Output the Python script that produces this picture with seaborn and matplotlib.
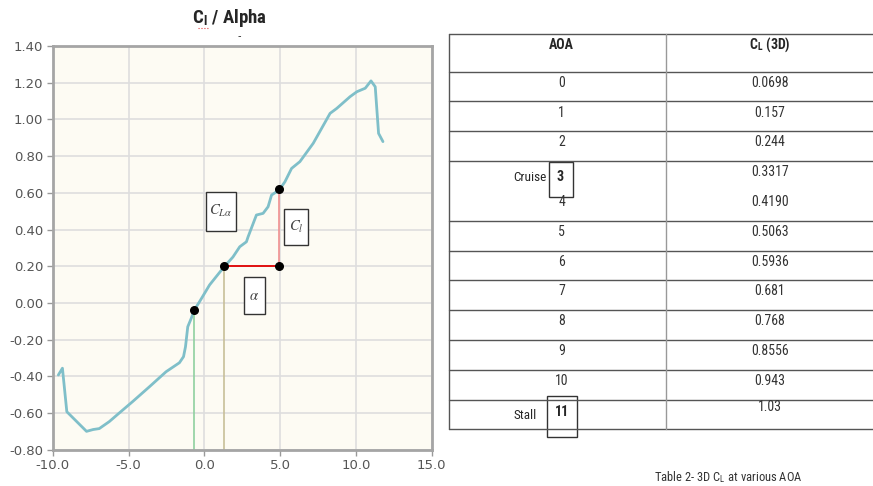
import matplotlib
matplotlib.use("Agg")
import matplotlib.pyplot as plt
from matplotlib import font_manager
import seaborn as sns
import numpy as np

# C_l vs alpha curve
alpha = [-9.63, -9.36, -9.07, -7.77, -7.33, -6.93, -6.27, -5.61, -4.73, -3.62,
         -2.52, -1.64, -1.37, -1.24, -1.09, -0.86, -0.66, -0.31, 0.35, 1.28,
         1.89, 2.34, 2.78, 2.89, 3.44, 3.88, 4.21, 4.44, 4.94, 5.32,
         5.76, 6.31, 7.19, 8.30, 8.74, 9.62, 10.07, 10.62, 11.00, 11.28,
         11.50, 11.79]
cl = [-0.393, -0.356, -0.593, -0.700, -0.690, -0.685, -0.647, -0.600, -0.538, -0.457,
      -0.375, -0.326, -0.293, -0.239, -0.130, -0.084, -0.039, 0.007, 0.098, 0.194,
      0.250, 0.306, 0.333, 0.360, 0.479, 0.488, 0.524, 0.588, 0.615, 0.660,
      0.733, 0.770, 0.870, 1.033, 1.060, 1.124, 1.151, 1.170, 1.210, 1.178,
      0.924, 0.879]

# construction points for the slope
zero_lift = (-0.66, -0.04)
p1 = (1.28, 0.20)
p2 = (4.94, 0.20)
p3 = (4.94, 0.62)

# table
aoa = [str(i) for i in range(12)]
cl_3d = ["0.0698", "0.157", "0.244", "0.3317", "0.4190", "0.5063",
         "0.5936", "0.681", "0.768", "0.8556", "0.943", "1.03"]

sns.set_theme(style="whitegrid")
plt.rcParams["font.family"] = ["DejaVu Sans"]
plt.rcParams["mathtext.fontset"] = "stix"

# pick a narrow face if one is installed
names = {f.name for f in font_manager.fontManager.ttflist}
narrow = "Liberation Sans"
narrow_stretch = "normal"
for cand in ["Liberation Sans Narrow", "DejaVu Sans Condensed", "Roboto Condensed",
             "Open Sans Condensed"]:
    if cand in names:
        narrow = cand
        break
else:
    cond = [f for f in font_manager.fontManager.ttflist
            if f.name == "DejaVu Sans" and f.stretch in ("condensed", "semi-condensed")]
    if cond:
        narrow = "DejaVu Sans"
        narrow_stretch = "condensed"
narrow_fam = [narrow, "DejaVu Sans"]
nkw = dict(family=narrow_fam, stretch=narrow_stretch)
big = narrow != "Liberation Sans"
tfs = 10 if big else 8.5

fig = plt.figure(figsize=(8.73, 4.86), dpi=100)
ax = fig.add_axes([0.0604, 0.0747, 0.434, 0.8306])
ax.set_facecolor("#fdfbf3")

sns.lineplot(x=alpha, y=cl, sort=False, ax=ax, color="#7fbfc9", linewidth=2)

ax.plot([zero_lift[0], zero_lift[0]], [-0.8, zero_lift[1]], color="#8fd0a0", lw=1.2)
ax.plot([p1[0], p1[0]], [-0.8, p1[1]], color="#c8bf98", lw=1.2)
ax.plot([p1[0], p2[0]], [p1[1], p2[1]], color="#e01010", lw=1.4)
ax.plot([p2[0], p3[0]], [p2[1], p3[1]], color="#f09090", lw=1.2)
ax.scatter([zero_lift[0], p1[0], p2[0], p3[0]], [zero_lift[1], p1[1], p2[1], p3[1]],
           color="black", s=30, zorder=5)

xt = np.arange(-10, 16, 5)
yt = np.round(np.arange(-0.8, 1.41, 0.2), 2)
ax.set_xlim(-10, 15)
ax.set_ylim(-0.8, 1.4)
ax.set_xticks(xt)
ax.set_yticks(yt)
ax.set_xticklabels([f"{v:.1f}" for v in xt])
ax.set_yticklabels([f"{v + 0.0:.2f}" for v in yt])
ax.tick_params(axis="both", labelsize=9.5, labelcolor="#555555", length=4,
               color="#999999", width=1, pad=3, left=True, bottom=True)
ax.grid(True, color="#dedede", linewidth=1.2)
for s in ax.spines.values():
    s.set_color("#a5a5a5")
    s.set_linewidth(2)

# overlay axes in pixel coordinates for title, labels and table
ov = fig.add_axes([0, 0, 1, 1], facecolor="none")
ov.set_xlim(0, 873)
ov.set_ylim(486, 0)
ov.axis("off")

# label boxes on the plot
for (x0, y0, w, h, s) in [(205.7, 191.7, 30, 39.3, r"$C_{L\alpha}$"),
                          (284.3, 209, 23.4, 36, r"$C_l$"),
                          (244, 276.7, 21, 37.3, r"$\alpha$")]:
    ov.add_patch(plt.Rectangle((x0, y0), w, h, fc="white", ec="#333333", lw=1, zorder=6))
    ov.text(x0 + w / 2, y0 + h / 2, s, ha="center", va="center", fontsize=10.5,
            color="#444444", zorder=7)

ov.text(229, 18, r"C$_\mathregular{l}$ / Alpha", ha="center", va="center",
        fontsize=13.5 if big else 11.5, fontweight="bold", **nkw)
ov.plot([198, 209], [28, 28], color="#e04040", lw=0.8, ls=":")
ov.text(239, 36, "-", ha="center", va="center", fontsize=7)

# table lines
left, mid, right = 449.3, 665.7, 873
top, head_bot, bot = 34, 71.7, 429.3
step = (bot - head_bot) / len(aoa)
line_c = "#555555"
ov.plot([left, right], [top, top], color=line_c, lw=1)
ov.plot([left, right], [head_bot, head_bot], color=line_c, lw=1)
for i in range(1, len(aoa) + 1):
    if i == 4:
        continue
    y = head_bot + i * step
    ov.plot([left, right], [y, y], color=line_c, lw=1)
ov.plot([left, left], [top, bot], color=line_c, lw=1)
ov.plot([mid, mid], [top, bot], color="#999999", lw=1)

c1, c2 = 561.7, 770
ov.text(c1, 45, "AOA", ha="center", va="center", fontsize=tfs, fontweight="bold", **nkw)
ov.text(c2, 45, r"C$_\mathregular{L}$ (3D)", ha="center", va="center", fontsize=tfs,
        fontweight="bold", **nkw)
for i, (a, c) in enumerate(zip(aoa, cl_3d)):
    y = head_bot + i * step + 11
    if a in ("3", "11"):
        continue
    ov.text(c1, y, a, ha="center", va="center", fontsize=tfs, color="#333333", **nkw)
    ov.text(c2, y, c, ha="center", va="center", fontsize=tfs, color="#333333", **nkw)

# special rows: cruise and stall
ov.text(c2, head_bot + 3 * step + 11, cl_3d[3], ha="center", va="center", fontsize=tfs,
        color="#333333", **nkw)
ov.text(530, 177, "Cruise", ha="center", va="center", fontsize=tfs - 0.5, **nkw)
ov.add_patch(plt.Rectangle((549.3, 161.7), 23.4, 35, fc="white", ec="#333333", lw=1))
ov.text(560.5, 177, aoa[3], ha="center", va="center", fontsize=tfs, fontweight="bold", **nkw)
ov.text(c2, head_bot + 11 * step + 7, cl_3d[11], ha="center", va="center", fontsize=tfs,
        color="#333333", **nkw)
ov.text(525, 415, "Stall", ha="center", va="center", fontsize=tfs - 0.5, **nkw)
ov.add_patch(plt.Rectangle((546.7, 396), 30, 41.3, fc="white", ec="#333333", lw=1))
ov.text(561.5, 412, aoa[11], ha="center", va="center", fontsize=tfs, fontweight="bold", **nkw)

ov.text(728, 477, r"Table 2- 3D C$_\mathregular{L}$ at various AOA", ha="center",
        va="center", fontsize=tfs - 1, color="#333333", **nkw)

fig.savefig("out.png", dpi=100)
